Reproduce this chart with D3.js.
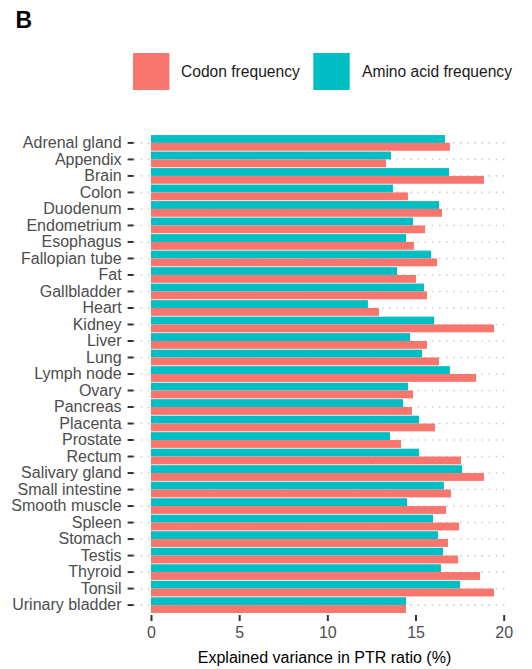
<!DOCTYPE html>
<html>
<head>
<meta charset="utf-8">
<script src="https://cdn.jsdelivr.net/npm/d3@7"></script>
<style>
  html, body { margin: 0; padding: 0; background: #fff; }
  svg { display: block; font-family: "Liberation Sans", Arial, Helvetica, sans-serif; }
</style>
</head>
<body>
<svg id="chart" width="532" height="669"></svg>
<script>
// Tissues, top to bottom
const tissues = [
  "Adrenal gland", "Appendix", "Brain", "Colon", "Duodenum", "Endometrium",
  "Esophagus", "Fallopian tube", "Fat", "Gallbladder", "Heart", "Kidney",
  "Liver", "Lung", "Lymph node", "Ovary", "Pancreas", "Placenta", "Prostate",
  "Rectum", "Salivary gland", "Small intestine", "Smooth muscle", "Spleen",
  "Stomach", "Testis", "Thyroid", "Tonsil", "Urinary bladder"
];

// Explained variance in PTR ratio (%) per tissue
const aminoAcidFreq = [
  16.67, 13.61, 16.90, 13.72, 16.33, 14.86, 14.46, 15.88, 13.95, 15.48,
  12.30, 16.05, 14.69, 15.37, 16.95, 14.57, 14.29, 15.20, 13.55, 15.20,
  17.64, 16.61, 14.52, 15.99, 16.27, 16.56, 16.44, 17.52, 14.46
];
const codonFreq = [
  16.95, 13.33, 18.88, 14.57, 16.50, 15.54, 14.91, 16.22, 15.03, 15.65,
  12.93, 19.45, 15.65, 16.33, 18.43, 14.86, 14.80, 16.10, 14.18, 17.58,
  18.88, 17.01, 16.73, 17.47, 16.84, 17.41, 18.66, 19.45, 14.46
];

const seriesNames = ["Codon frequency", "Amino acid frequency"];
const seriesColors = ["#F8766D", "#00BFC4"];
const xTicks = [0, 5, 10, 15, 20];
const xTitle = "Explained variance in PTR ratio (%)";
const panelTag = "B";

const svg = d3.select("#chart");
const panel = { left: 133.6, right: 506, top: 133, bottom: 615 };

const x = d3.scaleLinear().domain([0, 20]).range([151, 503.7]);
const y = d3.scaleBand().domain(tissues)
  .range([panel.top, panel.bottom]).paddingInner(0).paddingOuter(0.1);

// Amino acid bar sits above codon bar within each tissue
const sub = d3.scaleBand().domain(["amino", "codon"])
  .range([y.step() * 0.025, y.step() * 0.975]);

const rows = tissues.map((t, i) => ({ tissue: t, amino: aminoAcidFreq[i], codon: codonFreq[i] }));

// Dotted horizontal grid lines
svg.append("g").selectAll("line").data(tissues).join("line")
  .attr("x1", panel.left).attr("x2", panel.right)
  .attr("y1", d => y(d) + y.bandwidth() / 2)
  .attr("y2", d => y(d) + y.bandwidth() / 2)
  .attr("stroke", "#cfcfcf").attr("stroke-width", 1.6)
  .attr("stroke-dasharray", "1.6,5.5");

// Bars
const g = svg.append("g");
g.selectAll("rect.amino").data(rows).join("rect").attr("class", "amino")
  .attr("x", x(0)).attr("y", d => y(d.tissue) + sub("amino"))
  .attr("width", d => x(d.amino) - x(0)).attr("height", sub.bandwidth())
  .attr("fill", seriesColors[1]);
g.selectAll("rect.codon").data(rows).join("rect").attr("class", "codon")
  .attr("x", x(0)).attr("y", d => y(d.tissue) + sub("codon"))
  .attr("width", d => x(d.codon) - x(0)).attr("height", sub.bandwidth())
  .attr("fill", seriesColors[0]);

// Y axis (tissue names)
const yAxis = svg.append("g").attr("transform", `translate(${panel.left},0)`)
  .call(d3.axisLeft(y).tickSize(6).tickPadding(6));
yAxis.select(".domain").remove();
yAxis.selectAll(".tick line").attr("stroke", "#333").attr("stroke-width", 2);
yAxis.selectAll(".tick text").attr("fill", "#4d4d4d")
  .attr("font-size", 16).attr("font-family", "Liberation Sans, Arial, sans-serif");

// X axis
const xAxis = svg.append("g").attr("transform", `translate(0,${panel.bottom})`)
  .call(d3.axisBottom(x).tickValues(xTicks).tickSize(6).tickPadding(6));
xAxis.select(".domain").remove();
xAxis.selectAll(".tick line").attr("stroke", "#333").attr("stroke-width", 2);
xAxis.selectAll(".tick text").attr("fill", "#4d4d4d")
  .attr("font-size", 16).attr("font-family", "Liberation Sans, Arial, sans-serif");

svg.append("text").attr("x", (x(0) + panel.right) / 2 - 4).attr("y", 663)
  .attr("text-anchor", "middle").attr("font-size", 16).attr("fill", "#000")
  .text(xTitle);

// Legend
const legendItems = [
  { name: seriesNames[0], color: seriesColors[0], kx: 133, tx: 181 },
  { name: seriesNames[1], color: seriesColors[1], kx: 313.3, tx: 362 }
];
const lg = svg.append("g");
lg.selectAll("rect").data(legendItems).join("rect")
  .attr("x", d => d.kx).attr("y", 53).attr("width", 36.4).attr("height", 37)
  .attr("fill", d => d.color);
lg.selectAll("text").data(legendItems).join("text")
  .attr("x", d => d.tx).attr("y", 77).attr("font-size", 15.6).attr("fill", "#1a1a1a")
  .text(d => d.name);

// Panel tag
svg.append("text").attr("x", 15.5).attr("y", 27.7).attr("font-size", 23)
  .attr("font-weight", "bold").attr("fill", "#000").text(panelTag);
</script>
</body>
</html>
